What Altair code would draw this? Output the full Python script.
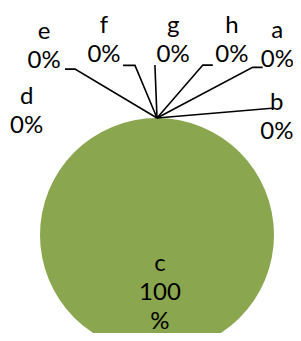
import math
import altair as alt
import pandas as pd

# ---- data -------------------------------------------------------------
CATEGORIES = ["a", "b", "c", "d", "e", "f", "g", "h"]
VALUES = [0, 0, 100, 0, 0, 0, 0, 0]
COLORS = ["#4F81BD", "#C0504D", "#8AA64E", "#8064A2",
          "#4BACC6", "#F79646", "#2C4D75", "#772C2A"]

# ---- layout (polar: degrees clockwise from 12 o'clock, px from pie centre)
CX, CY, R = 149, 227, 117
LABEL_ANGLE = [30.5, 42.3, 174.1, -43.3, -29.1, -14.2, 4.4, 19.7]
LABEL_RADIUS = [237, 178, 29, 190, 232, 216, 210, 222]
LEADER_ANGLE = [29.7, 42.2, None, None, -26.3, -7.4, -0.7, 15.1]
LEADER_RADIUS = [193, 171, None, None, 185, 171, 170, 176]
LEADER_TAIL = [10, 0, None, None, -10, -12, 0, 10]
FONT = "Lato"
FONT_SIZE = 24
LINE_HEIGHT = 29

total = sum(VALUES)
pie_df = pd.DataFrame({"category": CATEGORIES, "value": VALUES,
                       "order": list(range(len(CATEGORIES)))})

# label text lines
lines = []
for cat, v in zip(CATEGORIES, VALUES):
    pct = round(100 * v / total)
    if pct >= 100:
        lines.append(f"{cat}\n{pct}\n%")
    else:
        lines.append(f"{cat}\n{pct}%")
label_df = pd.DataFrame({"category": CATEGORIES, "text": lines,
                         "ang": LABEL_ANGLE, "rad": LABEL_RADIUS})

# leader lines: apex of slice (from data), elbow, tail end
rows = []
cum = 0
for cat, v, la, lr, lt in zip(CATEGORIES, VALUES, LEADER_ANGLE, LEADER_RADIUS, LEADER_TAIL):
    start = 360 * cum / total
    cum += v
    if la is None:
        continue
    rows.append({"category": cat, "i": 0, "ang": start, "rad": R, "tail": 0})
    rows.append({"category": cat, "i": 1, "ang": la, "rad": lr, "tail": 0})
    rows.append({"category": cat, "i": 2, "ang": la, "rad": lr, "tail": lt})
lead_df = pd.DataFrame(rows)

pie = alt.Chart(pie_df).mark_arc(outerRadius=R, strokeWidth=0).encode(
    theta=alt.Theta("value:Q", stack=True),
    color=alt.Color("category:N", scale=alt.Scale(domain=CATEGORIES, range=COLORS), legend=None),
    order=alt.Order("order:Q"),
    x=alt.value(CX),
    y=alt.value(CY),
)

polar_x = f"{CX} + datum.rad * sin(datum.ang * PI / 180)"
polar_y = f"{CY} - datum.rad * cos(datum.ang * PI / 180)"

leaders = alt.Chart(lead_df).mark_line(color="black", strokeWidth=1.6).transform_calculate(
    px=polar_x + " + datum.tail", py=polar_y
).encode(
    x=alt.X("px:Q", scale=None, axis=None),
    y=alt.Y("py:Q", scale=None, axis=None),
    detail="category:N",
    order="i:Q",
)

labels = alt.Chart(label_df).mark_text(
    font=FONT, fontSize=FONT_SIZE, lineBreak="\n", lineHeight=LINE_HEIGHT,
    align="center", baseline="middle", color="black"
).transform_calculate(
    px=polar_x, py=polar_y
).encode(
    x=alt.X("px:Q", scale=None, axis=None),
    y=alt.Y("py:Q", scale=None, axis=None),
    text="text:N",
)

chart = alt.layer(pie, leaders, labels).properties(
    width=285, height=325, autosize="none", padding=0
).configure_view(stroke=None)

chart.save("out.html", embed_options={"renderer": "svg", "actions": False})
